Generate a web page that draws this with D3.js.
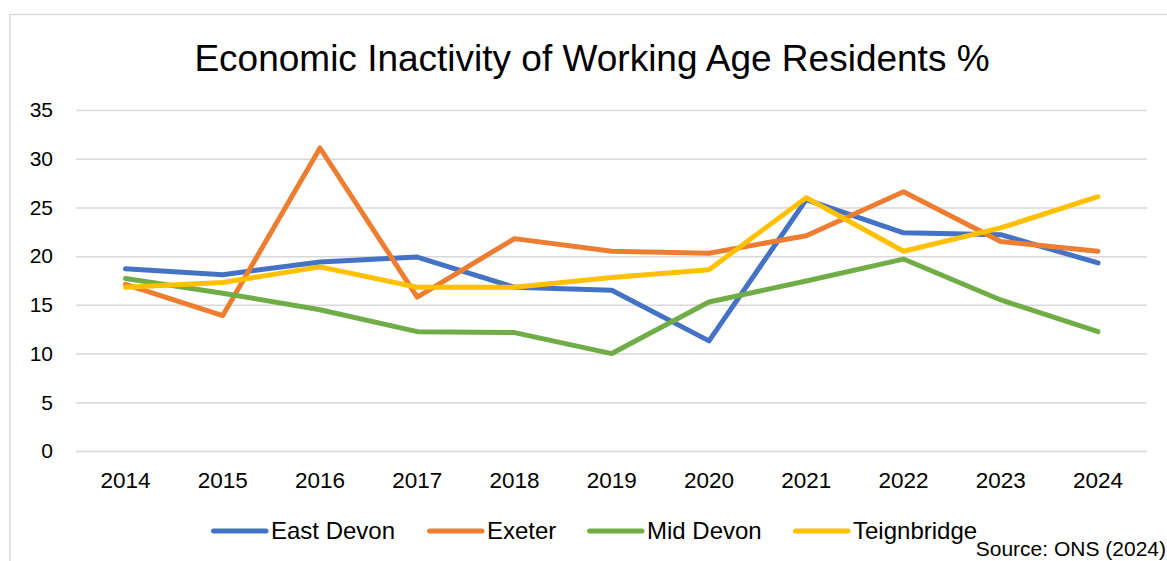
<!DOCTYPE html>
<html lang="en">
<head>
<meta charset="UTF-8">
<title>Economic Inactivity</title>
<style>
    body { margin: 0; background: white; }
    text { font-family: "Liberation Sans", Arial, sans-serif; fill: #000; }
    .grid line { stroke: #d9d9d9; stroke-width: 1.5; }
    .grid path { display: none; }
</style>
</head>
<body>
<script src="https://d3js.org/d3.v7.min.js"></script>
<script>
    // data
    var years = ["2014", "2015", "2016", "2017", "2018", "2019", "2020", "2021", "2022", "2023", "2024"];
    var eastDevon = [18.7, 18.1, 19.4, 19.9, 16.8, 16.5, 11.3, 25.8, 22.4, 22.2, 19.3];
    var exeter = [17.1, 13.9, 31.1, 15.8, 21.8, 20.5, 20.3, 22.1, 26.6, 21.5, 20.5];
    var midDevon = [17.7, 16.2, 14.5, 12.25, 12.15, 10.0, 15.3, 17.45, 19.7, 15.5, 12.25];
    var teignbridge = [16.8, 17.3, 18.9, 16.8, 16.8, 17.8, 18.6, 26.0, 20.5, 22.9, 26.1];
    var seriesNames = ["East Devon", "Exeter", "Mid Devon", "Teignbridge"];
    var colors = ["#4472C4", "#ED7D31", "#70AD47", "#FFC000"];
    var yTicks = [0, 5, 10, 15, 20, 25, 30, 35];

    var series = [eastDevon, exeter, midDevon, teignbridge];

    var width = 1167, height = 561;

    var svg = d3.select("body").append("svg")
        .attr("width", width)
        .attr("height", height);

    // chart frame
    svg.append("rect")
        .attr("x", 10).attr("y", 14.5)
        .attr("width", 1200).attr("height", 600)
        .attr("fill", "white")
        .attr("stroke", "#d9d9d9")
        .attr("stroke-width", 1.5);

    var x = d3.scalePoint()
        .domain(years)
        .range([125.5, 1098])
    var y = d3.scaleLinear()
        .domain([0, 35])
        .range([451, 110]);

    // gridlines
    svg.append("g")
        .attr("class", "grid")
        .attr("transform", "translate(76,0)")
        .call(d3.axisLeft(y).tickValues(yTicks).tickSize(-1071).tickFormat(""));

    // y labels
    svg.append("g").selectAll("text")
        .data(yTicks)
        .enter().append("text")
        .attr("x", 53)
        .attr("y", function(d) { return y(d); })
        .attr("dy", "0.35em")
        .attr("text-anchor", "end")
        .style("font-size", "21px")
        .text(function(d) { return d; });

    // x labels
    svg.append("g").selectAll("text")
        .data(years)
        .enter().append("text")
        .attr("x", function(d) { return x(d); })
        .attr("y", 488)
        .attr("text-anchor", "middle")
        .style("font-size", "22.5px")
        .text(function(d) { return d; });

    var line = d3.line()
        .x(function(d, i) { return x(years[i]); })
        .y(function(d) { return y(d); });

    svg.append("g").selectAll("path")
        .data(series)
        .enter().append("path")
        .attr("d", line)
        .attr("fill", "none")
        .attr("stroke", function(d, i) { return colors[i]; })
        .attr("stroke-width", 5)
        .attr("stroke-linejoin", "round")
        .attr("stroke-linecap", "round");

    // title
    svg.append("text")
        .attr("x", 592)
        .attr("y", 71)
        .attr("text-anchor", "middle")
        .style("font-size", "37px")
        .text("Economic Inactivity of Working Age Residents %");

    // legend
    var legendX = [211, 427, 587, 793];
    var leg = svg.append("g").selectAll("g")
        .data(seriesNames)
        .enter().append("g")
        .attr("transform", function(d, i) { return "translate(" + legendX[i] + ",531)"; });
    leg.append("line")
        .attr("x1", 2.5).attr("x2", 55)
        .attr("stroke", function(d, i) { return colors[i]; })
        .attr("stroke-width", 5)
        .attr("stroke-linecap", "round");
    leg.append("text")
        .attr("x", 60)
        .attr("dy", "0.35em")
        .style("font-size", "24px")
        .text(function(d) { return d; });

    svg.append("text")
        .attr("x", 1166)
        .attr("y", 556)
        .attr("text-anchor", "end")
        .style("font-size", "21px")
        .text("Source: ONS (2024)");
</script>
</body>
</html>
